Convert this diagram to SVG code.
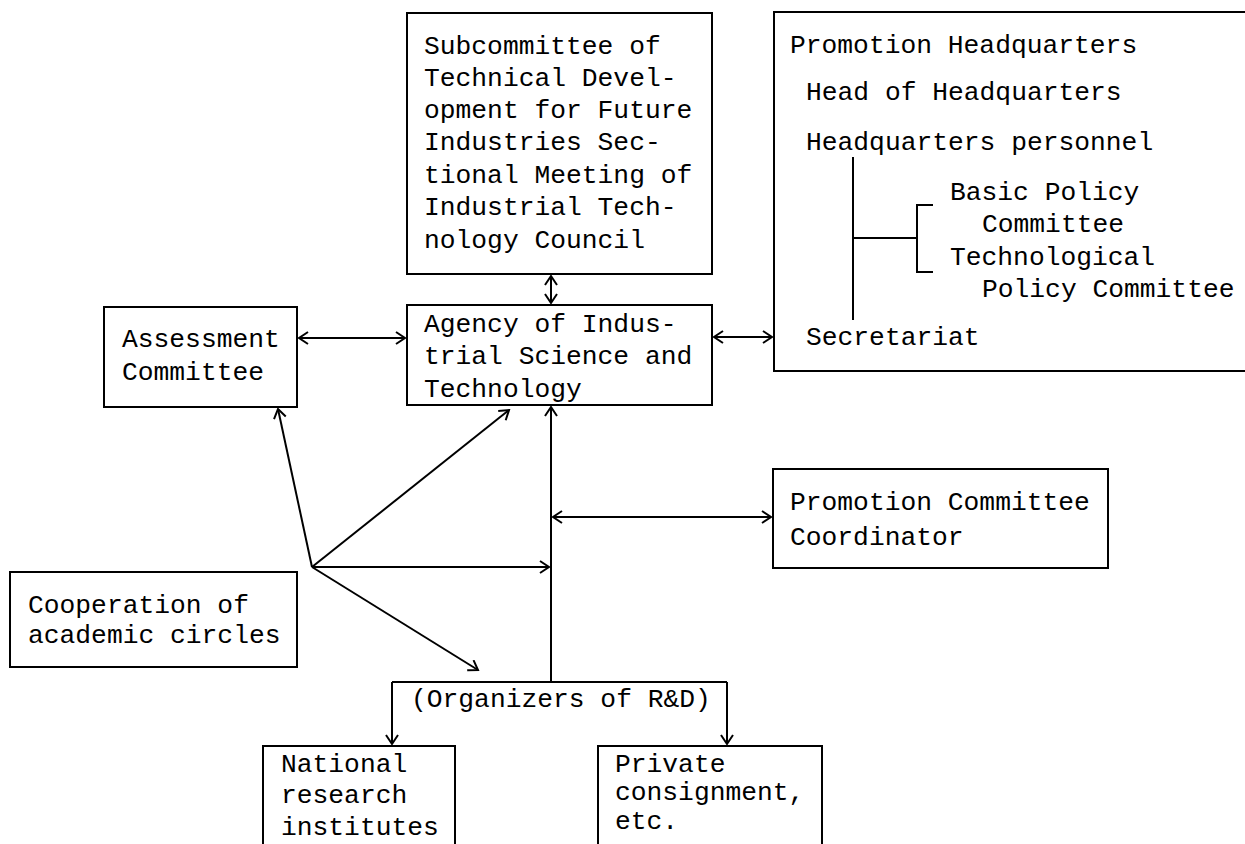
<svg xmlns="http://www.w3.org/2000/svg" width="1245" height="844" viewBox="0 0 1245 844">
<style>
.box{fill:#fff;stroke:#000;stroke-width:2}
.t{font-family:"Liberation Mono","DejaVu Sans Mono",monospace;font-size:26.3px;fill:#000}
.c{fill:none;stroke:#000;stroke-width:2}
</style>
<defs>
<marker id="ah" markerUnits="userSpaceOnUse" markerWidth="14" markerHeight="14" refX="11" refY="7" orient="auto-start-reverse">
<path d="M2,1 L11,7 L2,13" fill="none" stroke="#000" stroke-width="2"/>
</marker>
</defs>
<rect width="1245" height="844" fill="#fff"/>
<g id="subcommittee">
<rect class="box" x="407" y="13" width="305" height="261"/>
<text class="t" x="424" y="54">Subcommittee of</text>
<text class="t" x="424" y="86">Technical Devel-</text>
<text class="t" x="424" y="118">opment for Future</text>
<text class="t" x="424" y="150">Industries Sec-</text>
<text class="t" x="424" y="183">tional Meeting of</text>
<text class="t" x="424" y="215">Industrial Tech-</text>
<text class="t" x="424" y="248">nology Council</text>
</g>
<g id="agency">
<rect class="box" x="407" y="305" width="305" height="100"/>
<text class="t" x="424" y="332">Agency of Indus-</text>
<text class="t" x="424" y="364">trial Science and</text>
<text class="t" x="424" y="397">Technology</text>
</g>
<g id="headquarters">
<rect class="box" x="774" y="12" width="480" height="359"/>
<text class="t" x="790" y="53">Promotion Headquarters</text>
<text class="t" x="806" y="100">Head of Headquarters</text>
<text class="t" x="806" y="150">Headquarters personnel</text>
<text class="t" x="950" y="200">Basic Policy</text>
<text class="t" x="982" y="232">Committee</text>
<text class="t" x="950" y="265">Technological</text>
<text class="t" x="982" y="297">Policy Committee</text>
<text class="t" x="806" y="345">Secretariat</text>
<path class="c" d="M853,157 V320 M853,238 H917 M933,205 H917 V272 H933"/>
</g>
<g id="assessment">
<rect class="box" x="104" y="307" width="193" height="100"/>
<text class="t" x="122" y="347">Assessment</text>
<text class="t" x="122" y="380">Committee</text>
</g>
<g id="coordinator">
<rect class="box" x="773" y="469" width="335" height="99"/>
<text class="t" x="790" y="510">Promotion Committee</text>
<text class="t" x="790" y="545">Coordinator</text>
</g>
<g id="cooperation">
<rect class="box" x="10" y="572" width="287" height="95"/>
<text class="t" x="28" y="613">Cooperation of</text>
<text class="t" x="28" y="643">academic circles</text>
</g>
<g id="organizers">
<text class="t" x="411" y="707">(Organizers of R&amp;D)</text>
</g>
<g id="national">
<rect class="box" x="263" y="746" width="192" height="110"/>
<text class="t" x="281" y="772">National</text>
<text class="t" x="281" y="803">research</text>
<text class="t" x="281" y="835">institutes</text>
</g>
<g id="private">
<rect class="box" x="598" y="746" width="224" height="110"/>
<text class="t" x="615" y="772">Private</text>
<text class="t" x="615" y="800">consignment,</text>
<text class="t" x="615" y="829">etc.</text>
</g>
<g id="connectors">
<path class="c" d="M551,276 V303" marker-start="url(#ah)" marker-end="url(#ah)"/>
<path class="c" d="M299,338 H405" marker-start="url(#ah)" marker-end="url(#ah)"/>
<path class="c" d="M714,337 H772" marker-start="url(#ah)" marker-end="url(#ah)"/>
<path class="c" d="M312,567 L278,409" marker-end="url(#ah)"/>
<path class="c" d="M312,567 L509,410" marker-end="url(#ah)"/>
<path class="c" d="M312,567 H549" marker-end="url(#ah)"/>
<path class="c" d="M312,567 L478,670" marker-end="url(#ah)"/>
<path class="c" d="M551,682 V407" marker-end="url(#ah)"/>
<path class="c" d="M553,517 H771" marker-start="url(#ah)" marker-end="url(#ah)"/>
<path class="c" d="M392,682 H727"/>
<path class="c" d="M392,682 V744" marker-end="url(#ah)"/>
<path class="c" d="M727,682 V744" marker-end="url(#ah)"/>
</g>
</svg>
